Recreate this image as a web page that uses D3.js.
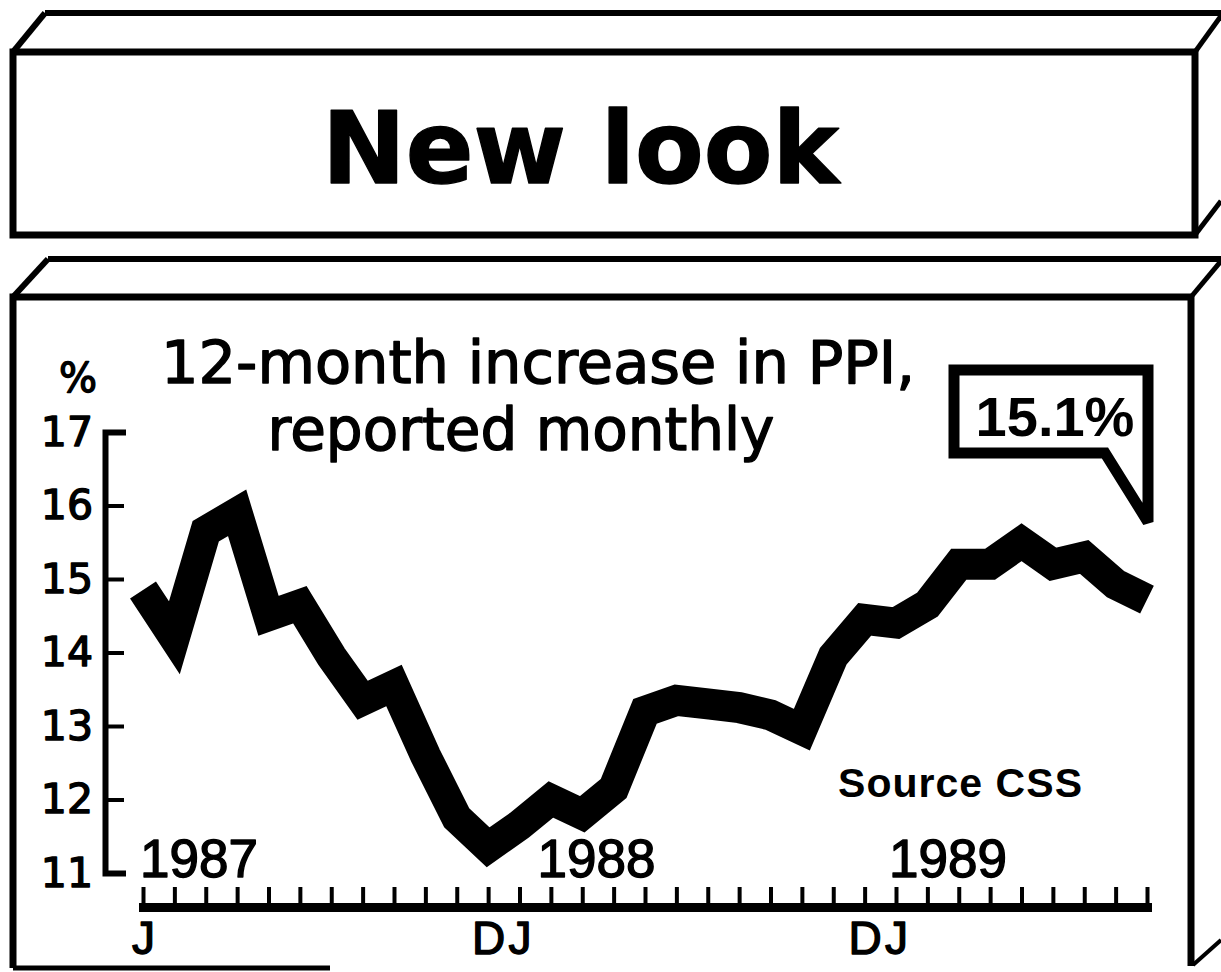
<!DOCTYPE html>
<html>
<head>
<meta charset="utf-8">
<script src="https://d3js.org/d3.v7.min.js"></script>
<style>
  html, body { margin: 0; padding: 0; background: #fff; }
  svg { display: block; }
  /* scanned print: ink spreads a little */
  .inky { stroke: #000; stroke-width: 1.4px; stroke-linejoin: round; }
</style>
</head>
<body>
<div id="chart"></div>
<script>
// 12-month increase in PPI, monthly, Jan 1987 - Sep 1989
const months = d3.timeMonth.range(new Date(1987, 0, 1), new Date(1989, 9, 1))
    .map(d => d3.timeFormat("%b %Y")(d));
const ppi = [14.85, 14.2, 15.65, 15.9, 14.5, 14.65, 13.95, 13.35, 13.55, 12.6, 11.75, 11.35,
             11.65, 12.0, 11.8, 12.15, 13.2, 13.35, 13.3, 13.25, 13.15, 12.95, 13.95, 14.45,
             14.4, 14.65, 15.2, 15.2, 15.5, 15.2, 15.3, 14.93, 14.72];
const yTicks = [11, 12, 13, 14, 15, 16, 17];
const monthLabelAt = ["Jan 1987", "Dec 1987", "Jan 1988", "Dec 1988", "Jan 1989"];
const monthLabelText = ["J", "D", "J", "D", "J"];
const years = ["1987", "1988", "1989"];
const yearAt = ["Jan 1987", "Jan 1988", "Jan 1989"];
const latest = "15.1%";

const W = 1221, H = 972;
const svg = d3.select("#chart")
    .append("svg")
        .attr("width", W)
        .attr("height", H);

const ink = "#000";
const frame = (d, sw) => svg.append("path")
    .attr("d", d)
    .attr("fill", "none")
    .attr("stroke", ink)
    .attr("stroke-width", sw)
    .attr("stroke-linejoin", "miter");

// top box ("New look")
frame("M45,13 H1221", 6);
frame("M1195,52 L1221,16", 5);
frame("M13,52 L45,13", 6);
frame("M13,52 H1195 V235 H13 Z", 7);
frame("M1195,235 L1221,201", 5);

svg.append("text")
    .attr("class", "inky")
    .attr("x", 322)
    .attr("y", 183)
    .style("font-family", "DejaVu Sans")
    .style("font-weight", "bold")
    .style("font-size", "100px")
    .attr("fill", ink)
    .text("New look");

// bottom box
frame("M48,259 H1221", 6);
frame("M1191,297 L1221,261", 5);
frame("M13,297 L48,259", 6);
frame("M13,968 V297 H1191 V966", 7);
frame("M13,968 H330", 5);
frame("M1193,965 L1221,940", 4);

// scales
const x = d3.scalePoint()
    .domain(months)
    .range([143, 1147]);
const y = d3.scaleLinear()
    .domain([11, 17])
    .range([873, 432]);

// y axis: ticks point right, bracket ends
const yAxis = svg.append("g")
    .attr("transform", "translate(105,0)")
    .call(d3.axisLeft(y)
        .tickValues(yTicks)
        .tickSizeInner(-19)
        .tickSizeOuter(-21)
        .tickPadding(12)
        .tickFormat(d3.format("d")));
yAxis.select(".domain")
    .attr("stroke", ink)
    .attr("stroke-width", 6);
yAxis.selectAll(".tick line")
    .attr("stroke", ink)
    .attr("stroke-width", 4);
yAxis.selectAll(".tick text")
    .attr("class", "inky")
    .attr("fill", ink)
    .style("font-family", "DejaVu Sans")
    .style("font-size", "41px");
// the end ticks are drawn by the bracket
yAxis.selectAll(".tick line").filter(d => d === 11 || d === 17).remove();

// month ruler
const xAxis = svg.append("g")
    .attr("transform", "translate(0,907)")
    .call(d3.axisTop(x)
        .tickSize(20)
        .tickSizeOuter(0)
        .tickFormat(""));
xAxis.select(".domain")
    .attr("stroke", ink)
    .attr("stroke-width", 9)
    .attr("stroke-linecap", "square");
xAxis.selectAll(".tick line")
    .attr("stroke", ink)
    .attr("stroke-width", 4);

const xLabels = svg.append("g")
    .attr("transform", "translate(0,907)")
    .call(d3.axisBottom(x)
        .tickValues(monthLabelAt)
        .tickSize(0)
        .tickPadding(14)
        .tickFormat(d => monthLabelText[monthLabelAt.indexOf(d)]));
xLabels.select(".domain").remove();
xLabels.selectAll(".tick text")
    .attr("class", "inky")
    .attr("fill", ink)
    .style("font-family", "Liberation Sans")
    .style("font-size", "46px");

// year labels
const yearNudge = [-3, 18, -7];
svg.selectAll(".year")
    .data(years)
    .enter()
    .append("text")
        .attr("class", "year inky")
        .attr("x", (d, i) => x(yearAt[i]) + yearNudge[i])
        .attr("y", 877)
        .attr("fill", ink)
        .style("font-family", "Liberation Sans")
        .style("font-size", "53px")
        .text(d => d);

// the thick line
const line = d3.line()
    .x((d, i) => x(months[i]))
    .y(d => y(d));
svg.append("path")
    .datum(ppi)
    .attr("d", line)
    .attr("fill", "none")
    .attr("stroke", ink)
    .attr("stroke-width", 31)
    .attr("stroke-linejoin", "miter")
    .attr("stroke-miterlimit", 3)
    .attr("stroke-linecap", "butt");

// titles
svg.append("text")
    .attr("class", "inky")
    .attr("x", 78)
    .attr("y", 392)
    .attr("text-anchor", "middle")
    .attr("fill", ink)
    .style("font-family", "DejaVu Sans")
    .style("font-size", "40px")
    .text("%");
svg.append("text")
    .attr("class", "inky")
    .attr("x", 538)
    .attr("y", 383)
    .attr("text-anchor", "middle")
    .attr("fill", ink)
    .style("font-family", "DejaVu Sans")
    .style("font-size", "59px")
    .text("12-month increase in PPI,");
svg.append("text")
    .attr("class", "inky")
    .attr("x", 521)
    .attr("y", 450)
    .attr("text-anchor", "middle")
    .attr("fill", ink)
    .style("font-family", "DejaVu Sans")
    .style("font-size", "58px")
    .text("reported monthly");

svg.append("text")
    .attr("x", 838)
    .attr("y", 797)
    .attr("fill", ink)
    .style("font-family", "Liberation Sans")
    .style("font-weight", "bold")
    .style("font-size", "41px")
    .attr("textLength", 244)
    .attr("lengthAdjust", "spacing")
    .text("Source  CSS");

// callout with latest figure
svg.append("path")
    .attr("d", "M954,370 H1148 V522 L1105,453 H954 Z")
    .attr("fill", "#fff")
    .attr("stroke", ink)
    .attr("stroke-width", 11)
    .attr("stroke-linejoin", "miter")
    .attr("stroke-miterlimit", 3);
svg.append("text")
    .attr("x", 1055)
    .attr("y", 436)
    .attr("text-anchor", "middle")
    .attr("fill", ink)
    .style("font-family", "Liberation Sans")
    .style("font-weight", "bold")
    .style("font-size", "56px")
    .text(latest);
</script>
</body>
</html>
